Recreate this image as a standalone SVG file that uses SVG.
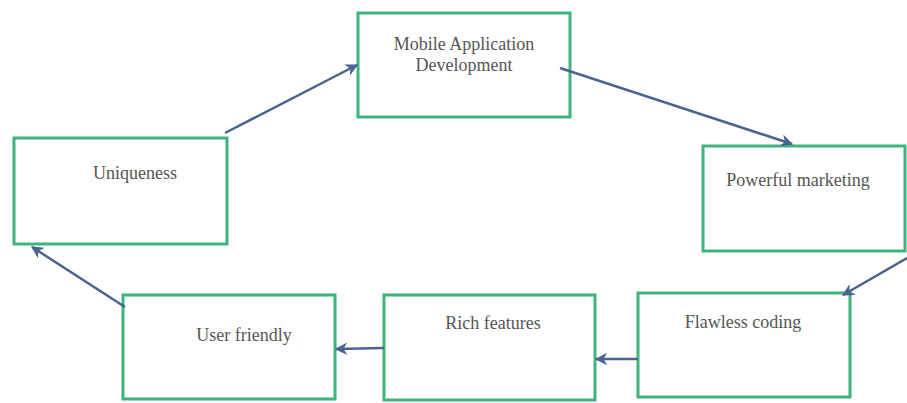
<svg xmlns="http://www.w3.org/2000/svg" width="907" height="403" viewBox="0 0 907 403">
<style>
.box{fill:#fff;stroke:#3db57c;stroke-width:3}
.lbl{font-family:'Liberation Serif','DejaVu Serif',serif;font-size:18px;fill:#555;text-anchor:middle}
.arr{stroke:#4b6391;stroke-width:2.5;fill:none;marker-end:url(#ah)}
</style>
<defs>
<marker id="ah" viewBox="0 0 10 10" refX="9" refY="5" markerWidth="5" markerHeight="5" orient="auto" markerUnits="strokeWidth">
<path d="M0,0 L10,5 L0,10 L3,5 Z" fill="#4b6391"/>
</marker>
</defs>
<rect width="907" height="403" fill="#fff"/>
<g id="mobile"><rect class="box" x="358" y="13" width="212" height="104"/><text class="lbl" x="464" y="50">Mobile Application</text><text class="lbl" x="464" y="71">Development</text></g>
<g id="uniqueness"><rect class="box" x="14" y="138" width="213" height="106"/><text class="lbl" x="135" y="179">Uniqueness</text></g>
<g id="powerful"><rect class="box" x="703" y="146" width="202" height="105"/><text class="lbl" x="798" y="186">Powerful marketing</text></g>
<g id="flawless"><rect class="box" x="638" y="293" width="212" height="104"/><text class="lbl" x="743" y="328">Flawless coding</text></g>
<g id="rich"><rect class="box" x="384" y="295" width="211" height="105"/><text class="lbl" x="493" y="329">Rich features</text></g>
<g id="userfriendly"><rect class="box" x="123" y="295" width="212" height="104"/><text class="lbl" x="244" y="341">User friendly</text></g>
<g id="connectors">
<line class="arr" x1="225" y1="133" x2="357" y2="65"/>
<line class="arr" x1="560" y1="68" x2="792" y2="144"/>
<line class="arr" x1="907" y1="258" x2="843" y2="295"/>
<line class="arr" x1="638" y1="359" x2="596" y2="359"/>
<line class="arr" x1="384" y1="348" x2="336" y2="349"/>
<line class="arr" x1="125" y1="307" x2="32" y2="247"/>
</g>
</svg>
